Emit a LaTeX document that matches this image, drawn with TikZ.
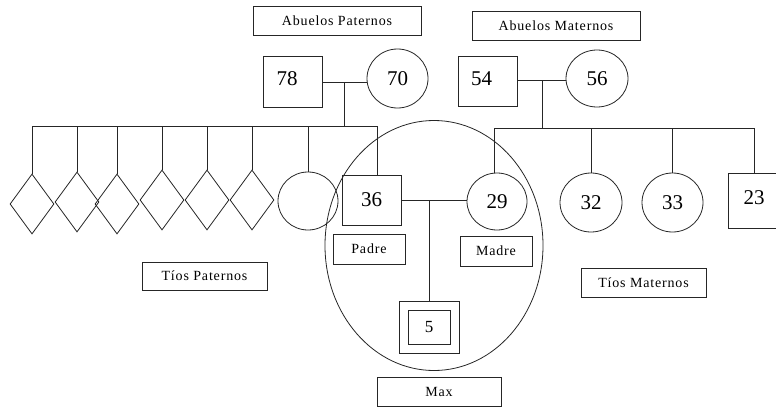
\documentclass[tikz,border=0pt]{standalone}
\usepackage{fontspec}
\setmainfont{Liberation Serif}
\usetikzlibrary{shapes.geometric, fit}

\begin{document}
\begin{tikzpicture}[x=1pt, y=-1pt, line width=.8pt, draw=black!85,
  varon/.style={draw, rectangle, inner sep=0pt, font=\fontsize{21}{21}\selectfont},
  mujer/.style={draw, ellipse, inner sep=0pt, font=\fontsize{21}{21}\selectfont},
  tio/.style={draw, diamond, inner sep=0pt, minimum width=44, minimum height=60},
  rotulo/.style={draw, rectangle, inner sep=0pt, minimum height=29, font=\fontsize{14}{14}\selectfont\addfontfeatures{LetterSpace=6}}]
  \useasboundingbox (0,0) rectangle (776,407);

  \node[rotulo, minimum width=168] (rabp) at (337,20.5) {Abuelos Paternos};
  \node[rotulo, minimum width=168] (rabm) at (556,25.5) {Abuelos Maternos};

  \node[varon, minimum width=59, minimum height=51] (ap1) at (292.5,81.5) {\raisebox{5pt}{78}\hspace*{11pt}};
  \node[mujer, minimum width=61, minimum height=59] (ap2) at (397.5,78.5) {70};
  \node[varon, minimum width=59, minimum height=50] (am1) at (487.5,81) {\raisebox{4pt}{54}\hspace*{12pt}};
  \node[mujer, minimum width=62, minimum height=57] (am2) at (597,78.5) {56};

  \node[tio] (tp1) at (32,204) {};
  \node[tio] (tp2) at (77,202) {};
  \node[tio] (tp3) at (117,204) {};
  \node[tio] (tp4) at (162,200) {};
  \node[tio] (tp5) at (207,200) {};
  \node[tio] (tp6) at (252,200) {};
  \node[mujer, minimum width=60, minimum height=58] (tp7) at (308,201) {};

  \node[draw, ellipse, minimum width=218, minimum height=250] (familia) at (434,245.5) {};
  \node[varon, minimum width=59, minimum height=50] (padre) at (371.5,200) {36};
  \node[mujer, minimum width=60, minimum height=57] (madre) at (497,201.5) {29};
  \node[rotulo, minimum width=72, minimum height=30] (rpadre) at (369,249) {Padre};
  \node[rotulo, minimum width=72, minimum height=30] (rmadre) at (496,251) {Madre};
  \node[draw, minimum width=42, minimum height=34, inner sep=0pt, font=\fontsize{17}{17}\selectfont] (max) at (429,327) {5};
  \node[draw, fit=(max), inner sep=8.5pt] (maxfit) {};
  \node[rotulo, minimum width=124] (rmax) at (439,391.5) {Max};

  \node[mujer, minimum width=62, minimum height=59] (tm1) at (591,202.5) {32};
  \node[mujer, minimum width=61, minimum height=59] (tm2) at (672.5,202.5) {33};
  \node[varon, minimum width=52, minimum height=55] (tm3) at (754,200.5) {\raisebox{5pt}{23}};

  \node[rotulo, minimum width=125, minimum height=28] (rtp) at (204.5,276) {Tíos Paternos};
  \node[rotulo, minimum width=125] (rtm) at (643.5,282.5) {Tíos Maternos};

  \coordinate (jp) at (344,82);
  \coordinate (hp) at (344,126);
  \coordinate (jm) at (542,80);
  \coordinate (hm) at (542,128);
  \coordinate (jf) at (maxfit.north |- padre.east);

  \draw (ap1.east |- jp) -- (ap2.west |- jp);
  \draw (jp) -- (hp);
  \draw (tp1.north |- hp) -- ([xshift=5.5pt]padre.north |- hp);
  \foreach \t in {tp1,tp2,tp3,tp4,tp5,tp6,tp7}
    \draw (\t.north |- hp) -- (\t.north);
  \draw ([xshift=5.5pt]padre.north |- hp) -- ([xshift=5.5pt]padre.north);

  \draw (am1.east |- jm) -- (am2.west |- jm);
  \draw (jm) -- (hm);
  \draw ([xshift=-3pt]madre.north |- hm) -- (tm3.north |- hm);
  \draw ([xshift=-3pt]madre.north |- hm) -- ([xshift=-3pt]madre.north);
  \foreach \t in {tm1,tm2,tm3}
    \draw (\t.north |- hm) -- (\t.north);

  \draw (padre.east) -- (madre.west |- padre.east);
  \draw (jf) -- (maxfit.north);
\end{tikzpicture}
\end{document}
